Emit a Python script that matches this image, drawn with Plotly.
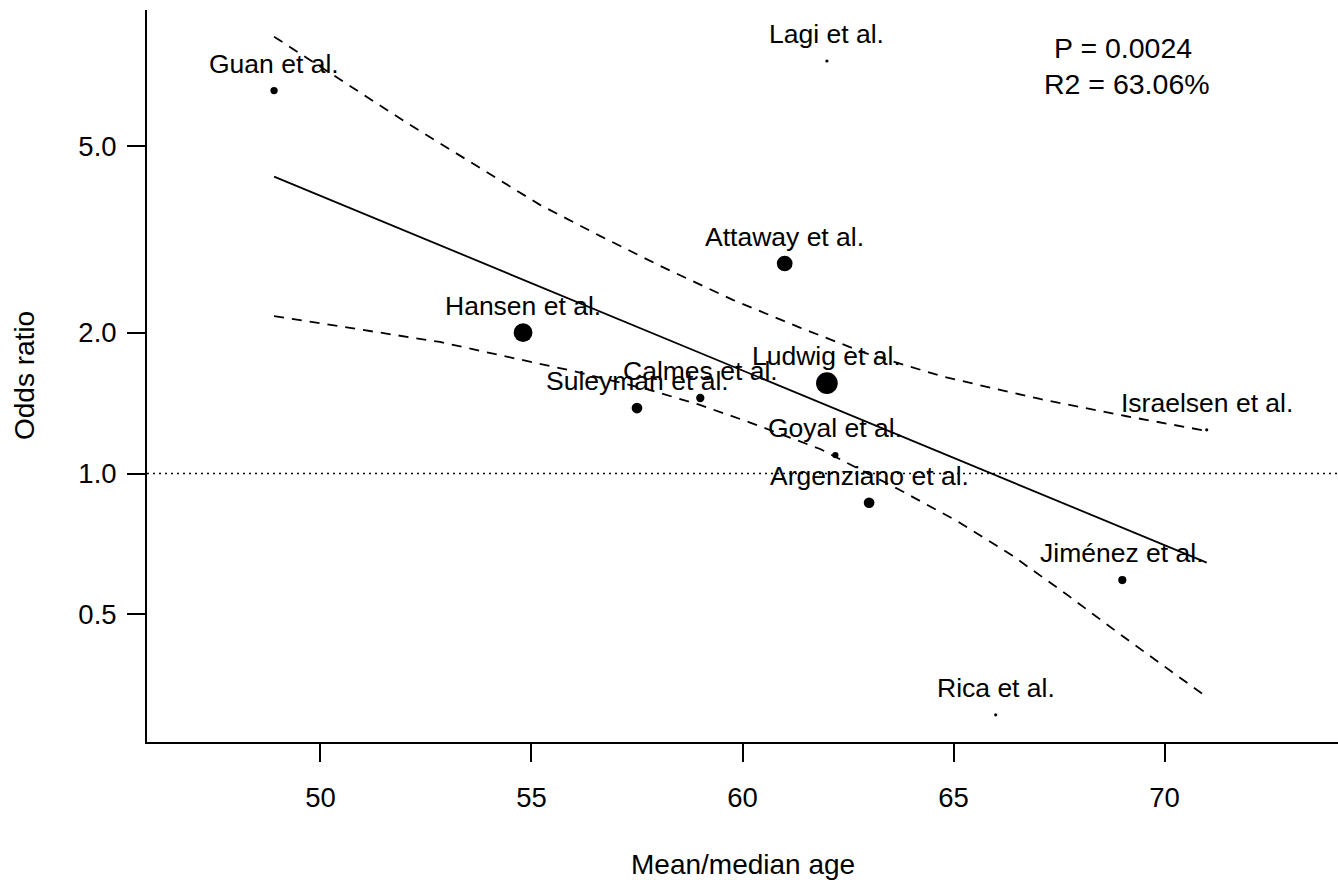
import math
import plotly.graph_objects as go

# ---- data ----
studies = ["Guan et al.", "Lagi et al.", "Attaway et al.", "Hansen et al.", "Ludwig et al.",
           "Suleyman et al.", "Calmes et al.", "Goyal et al.", "Argenziano et al.",
           "Israelsen et al.", "Jiménez et al.", "Rica et al."]
mean_age = [48.9, 62.0, 61.0, 54.8, 62.0, 57.5, 59.0, 62.2, 63.0, 71.0, 69.0, 66.0]
odds_ratio = [6.58, 7.61, 2.81, 2.00, 1.56, 1.38, 1.45, 1.095, 0.866, 1.24, 0.592, 0.305]
bubble_size = [7.3, 3.2, 15.7, 18.8, 21.7, 10.7, 8.3, 6.3, 10.7, 3.2, 8.2, 3.2]

fit_age = [48.9, 71.0]
fit_or = [4.31, 0.645]

upper_age = [48.9, 52.05, 55.2, 56.62, 58.04, 59.77, 61.36, 62.9, 64.78, 67.05, 69.07, 71.0]
upper_or = [8.58, 5.61, 3.75, 3.22, 2.78, 2.35, 2.05, 1.81, 1.608, 1.443, 1.327, 1.233]

lower_age = [48.9, 52.83, 54.25, 55.98, 57.81, 58.99, 60.18, 61.84, 63.73, 65.1, 66.39, 67.7, 69.07, 71.0]
lower_or = [2.17, 1.91, 1.79, 1.656, 1.508, 1.401, 1.285, 1.128, 0.922, 0.79, 0.668, 0.55, 0.445, 0.333]

x_ticks = [50, 55, 60, 65, 70]
y_ticks = [0.5, 1.0, 2.0, 5.0]
y_tick_text = ["0.5", "1.0", "2.0", "5.0"]

p_text = "P = 0.0024"
r2_text = "R2 = 63.06%"

FONT = "Liberation Sans, Arial, sans-serif"

fig = go.Figure()

fig.add_trace(go.Scatter(x=upper_age, y=upper_or, mode="lines",
                         line=dict(color="black", width=1.8, dash="10px,8px"),
                         hoverinfo="skip", showlegend=False))
fig.add_trace(go.Scatter(x=lower_age, y=lower_or, mode="lines",
                         line=dict(color="black", width=1.8, dash="10px,8px"),
                         hoverinfo="skip", showlegend=False))
fig.add_trace(go.Scatter(x=fit_age, y=fit_or, mode="lines",
                         line=dict(color="black", width=1.8),
                         hoverinfo="skip", showlegend=False))
fig.add_trace(go.Scatter(x=mean_age, y=odds_ratio, mode="markers",
                         marker=dict(color="black", size=bubble_size, opacity=1,
                                     line=dict(width=0)),
                         text=studies, showlegend=False))

fig.add_shape(type="line", xref="paper", yref="y", x0=0, x1=1, y0=1.0, y1=1.0,
              line=dict(color="black", width=1.5, dash="2px,4px"))

for name, a, o in zip(studies, mean_age, odds_ratio):
    fig.add_annotation(x=a, y=math.log10(o), text=name, showarrow=False,
                       xanchor="center", yanchor="middle", yshift=27,
                       font=dict(family=FONT, size=26.5, color="black"))

fig.add_annotation(xref="paper", yref="paper", x=(1123 - 147) / 1191, y=1 - (48 - 10) / 732,
                   text=p_text, showarrow=False, xanchor="center", yanchor="middle",
                   font=dict(family=FONT, size=28.5, color="black"))
fig.add_annotation(xref="paper", yref="paper", x=(1127 - 147) / 1191, y=1 - (84 - 10) / 732,
                   text=r2_text, showarrow=False, xanchor="center", yanchor="middle",
                   font=dict(family=FONT, size=28.5, color="black"))

# axis titles
fig.add_annotation(xref="paper", yref="paper", x=(743 - 147) / 1191, y=-(865 - 742) / 732,
                   text="Mean/median age", showarrow=False, xanchor="center", yanchor="middle",
                   font=dict(family=FONT, size=28, color="black"))
fig.add_annotation(xref="paper", yref="paper", x=-(147 - 24) / 1191, y=0.5,
                   text="Odds ratio", showarrow=False, textangle=-90,
                   xanchor="center", yanchor="middle",
                   font=dict(family=FONT, size=28, color="black"))

fig.update_layout(
    width=1338, height=886,
    margin=dict(l=147, r=0, t=10, b=144),
    paper_bgcolor="white", plot_bgcolor="white",
    font=dict(family=FONT, size=27, color="black"),
    xaxis=dict(range=[45.889, 74.111], tickvals=x_ticks, ticks="outside", ticklen=18,
               tickwidth=1.8, tickcolor="black", showline=True, linecolor="black",
               linewidth=1.8, showgrid=False, zeroline=False, ticklabelstandoff=12,
               tickfont=dict(family=FONT, size=27.5)),
    yaxis=dict(type="log", range=[-0.5737, 0.9904], tickvals=y_ticks, ticktext=y_tick_text,
               ticks="outside", ticklen=18, tickwidth=1.8, tickcolor="black",
               showline=True, linecolor="black", linewidth=1.8, showgrid=False,
               zeroline=False, ticklabelstandoff=5, tickfont=dict(family=FONT, size=27.5)),
)

fig.write_html("out.html")
